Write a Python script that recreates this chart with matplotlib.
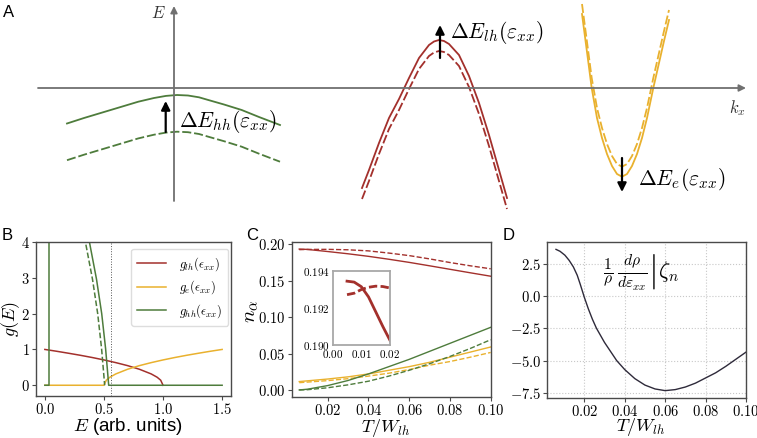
import numpy as np
import matplotlib.pyplot as plt
from matplotlib.ticker import FuncFormatter

plt.rcParams['mathtext.fontset'] = 'cm'
plt.rcParams['font.family'] = ['Liberation Sans', 'DejaVu Sans']

RED = '#a3302c'
YEL = '#e9b12e'
GRN = '#4e7c3c'
SPINE = '#4a4a4a'

# ---- A: band sketch (k_x, E in arbitrary units), solid = strained
hh_k = [-1.07, -0.9, -0.69, -0.5, -0.357, -0.2, -0.08, 0.03, 0.14, 0.25, 0.343, 0.5, 0.677, 0.85, 1.06]
hh_E = [-0.355, -0.30, -0.237, -0.18, -0.137, -0.100, -0.079, -0.07, -0.075, -0.093, -0.12, -0.165, -0.22, -0.29, -0.37]
lh_k = [1.88, 1.95, 2.05, 2.15, 2.25, 2.35, 2.45, 2.55, 2.60, 2.65, 2.70, 2.75, 2.85, 2.95, 3.05, 3.15, 3.25, 3.33]
lh_E = [-1.00, -0.82, -0.55, -0.30, -0.11, 0.10, 0.30, 0.43, 0.465, 0.48, 0.47, 0.44, 0.33, 0.12, -0.15, -0.47, -0.82, -1.10]
e_k = [4.08, 4.13, 4.177, 4.23, 4.28, 4.33, 4.38, 4.43, 4.48, 4.53, 4.58, 4.63, 4.68, 4.73, 4.793, 4.85, 4.90, 4.95]
e_E = [0.74, 0.36, 0.0, -0.30, -0.50, -0.66, -0.78, -0.86, -0.887, -0.86, -0.78, -0.66, -0.50, -0.30, 0.0, 0.25, 0.47, 0.68]
# strain shifts of the band edges
dE_hh = 0.367
dE_lh = 0.11
dE_e = -0.10

# ---- B: density of states
lh_Eg = [0.0, 0.1, 0.2, 0.3, 0.4, 0.5, 0.6, 0.7, 0.8, 0.9, 0.95, 0.98, 1.0]
lh_g = [1.0, 0.949, 0.894, 0.837, 0.775, 0.707, 0.632, 0.548, 0.447, 0.316, 0.224, 0.141, 0.0]
e_Eg = [0.0, 0.5, 0.52, 0.55, 0.6, 0.7, 0.8, 0.9, 1.0, 1.1, 1.2, 1.3, 1.4, 1.5]
e_g = [0.0, 0.0, 0.141, 0.224, 0.316, 0.447, 0.548, 0.632, 0.707, 0.775, 0.837, 0.894, 0.949, 1.0]
hh_Eg = [0.0, 0.035, 0.035, np.nan, 0.36, 0.377, 0.437, 0.481, 0.514, 0.533, 0.54, 1.5]
hh_g = [0.0, 0.0, 5.0, np.nan, 4.6, 4.0, 2.96, 2.0, 1.02, 0.28, 0.0, 0.0]
hh0_Eg = [0.326, 0.343, 0.403, 0.447, 0.48, 0.499, 0.506]
hh0_g = [4.6, 4.0, 2.96, 2.0, 1.02, 0.28, 0.0]
E_mark = 0.56

# ---- C: occupations vs temperature
T = [0.006, 0.01, 0.02, 0.03, 0.04, 0.05, 0.06, 0.07, 0.08, 0.09, 0.1]
n_lh = [0.1935, 0.1930, 0.1901, 0.1870, 0.1835, 0.1795, 0.1752, 0.1705, 0.1657, 0.1609, 0.1562]
n_lh0 = [0.1927, 0.1930, 0.1931, 0.1925, 0.1910, 0.1880, 0.1845, 0.1800, 0.1750, 0.1705, 0.1664]
n_e = [0.0115, 0.0125, 0.015, 0.018, 0.022, 0.027, 0.032, 0.038, 0.045, 0.052, 0.059]
n_e0 = [0.010, 0.0108, 0.0128, 0.0155, 0.019, 0.023, 0.028, 0.034, 0.039, 0.045, 0.0515]
n_hh = [0.0, 0.001, 0.006, 0.013, 0.022, 0.032, 0.042, 0.053, 0.064, 0.075, 0.086]
n_hh0 = [0.0, 0.0003, 0.003, 0.007, 0.012, 0.019, 0.027, 0.036, 0.046, 0.057, 0.069]
T_in = [0.005, 0.0075, 0.01, 0.0125, 0.015, 0.0175, 0.02]
n_lh_in = [0.19345, 0.1934, 0.19315, 0.1926, 0.1918, 0.1910, 0.19025]
n_lh0_in = [0.19272, 0.1928, 0.1930, 0.19312, 0.19318, 0.19316, 0.19308]

# ---- D: strain response of resistivity
T_d = [0.006, 0.008, 0.0104, 0.0125, 0.0146, 0.0165, 0.018, 0.02, 0.022, 0.024, 0.026, 0.028, 0.03,
       0.033, 0.036, 0.04, 0.045, 0.05, 0.055, 0.06, 0.065, 0.07, 0.075, 0.08, 0.085, 0.09, 0.095, 0.1]
zeta = [3.6, 3.45, 3.15, 2.75, 2.24, 1.6, 0.9, -0.1, -1.0, -1.8, -2.5, -3.05, -3.6,
        -4.3, -5.0, -5.7, -6.4, -6.9, -7.2, -7.33, -7.25, -7.05, -6.75, -6.35, -5.95, -5.45, -4.9, -4.35]


def mfmt(dec):
    return FuncFormatter(lambda v, _: f'${v:.{dec}f}$')


def style(ax, size=10.5):
    for s in ax.spines.values():
        s.set_color(SPINE)
        s.set_linewidth(1.0)
    ax.tick_params(labelsize=size, color=SPINE, length=3, pad=1.5)


fig = plt.figure(figsize=(7.57, 4.38), dpi=100)

# ---------------- A
axA = fig.add_axes([0, 1 - 223 / 438, 1, 223 / 438])
axA.set_xlim(-1.74, 5.83)
axA.set_ylim(-1.35, 0.88)
axA.axis('off')
gray = '#707070'
axA.annotate('', xy=(5.72, 0), xytext=(-1.36, 0),
             arrowprops=dict(arrowstyle='-|>', color=gray, lw=1.3, mutation_scale=10, shrinkA=0, shrinkB=0))
axA.annotate('', xy=(0, 0.82), xytext=(0, -1.13),
             arrowprops=dict(arrowstyle='-|>', color=gray, lw=1.3, mutation_scale=10, shrinkA=0, shrinkB=0))
axA.text(-0.155, 0.75, '$E$', fontsize=12, ha='center', va='center', color='#333333')
axA.text(5.63, -0.20, '$k_x$', fontsize=12, ha='center', va='center', color='#333333')

dash = dict(dashes=(5, 1.6))
for k, E, dE, c in [(hh_k, hh_E, dE_hh, GRN), (lh_k, lh_E, dE_lh, RED), (e_k, e_E, dE_e, YEL)]:
    E = np.array(E)
    axA.plot(k, E, color=c, lw=1.3)
    axA.plot(k, E - dE, color=c, lw=1.3, **dash)

arr = dict(arrowstyle='-|>', color='k', lw=1.6, mutation_scale=13, shrinkA=0, shrinkB=0)
axA.annotate('', xy=(-0.083, -0.13), xytext=(-0.083, -0.44), arrowprops=arr)
axA.annotate('', xy=(2.66, 0.63), xytext=(2.66, 0.30), arrowprops=arr)
axA.annotate('', xy=(4.48, -1.04), xytext=(4.48, -0.70), arrowprops=arr)
axA.text(0.05, -0.39, r'$\Delta E_{hh}(\varepsilon_{xx})$', fontsize=15.5, va='baseline', ha='left')
axA.text(2.76, 0.50, r'$\Delta E_{lh}(\varepsilon_{xx})$', fontsize=15.5, va='baseline', ha='left')
axA.text(4.64, -0.97, r'$\Delta E_{e}(\varepsilon_{xx})$', fontsize=15.5, va='baseline', ha='left')

# ---------------- B
axB = fig.add_axes([36 / 757, 42 / 438, 195 / 757, 154 / 438])
axB.plot(lh_Eg, lh_g, color=RED, lw=1.1, label=r'$g_{lh}(\epsilon_{xx})$')
axB.plot(e_Eg, e_g, color=YEL, lw=1.1, label=r'$g_{e}(\epsilon_{xx})$')
axB.plot(hh_Eg, hh_g, color=GRN, lw=1.1, label=r'$g_{hh}(\epsilon_{xx})$')
axB.plot(hh0_Eg, hh0_g, color=GRN, lw=1.1, ls='--')
axB.axvline(E_mark, color='#555555', lw=0.7, ls=':')
axB.set_xlim(-0.075, 1.575)
axB.set_ylim(-0.3, 4)
axB.set_xticks([0, 0.5, 1.0, 1.5])
axB.set_yticks([0, 1, 2, 3, 4])
axB.xaxis.set_major_formatter(mfmt(1))
axB.yaxis.set_major_formatter(mfmt(0))
axB.set_xlabel(r'$E$ (arb. units)', fontsize=13.5)
axB.set_ylabel(r'$g(E)$', fontsize=13)
axB.xaxis.set_label_coords(0.47, -0.128)
axB.yaxis.set_label_coords(-0.074, 0.5)
axB.legend(loc='upper right', fontsize=9, handlelength=2.3, borderpad=0.5, labelspacing=0.45,
           handletextpad=1.0, borderaxespad=0, framealpha=1, edgecolor='#dddddd',
           bbox_to_anchor=(0.985, 0.955))
style(axB)

# ---------------- C
axC = fig.add_axes([291.7 / 757, 41 / 438, 199 / 757, 155 / 438])
axC.plot(T, n_lh, color=RED, lw=1.0)
axC.plot(T, n_lh0, color=RED, lw=1.0, ls='--')
axC.plot(T, n_e, color=YEL, lw=1.0)
axC.plot(T, n_e0, color=YEL, lw=1.0, ls='--')
axC.plot(T, n_hh, color=GRN, lw=1.0)
axC.plot(T, n_hh0, color=GRN, lw=1.0, ls='--')
axC.set_xlim(0.0023, 0.1)
axC.set_ylim(-0.0097, 0.2032)
axC.set_xticks([0.02, 0.04, 0.06, 0.08, 0.10])
axC.set_yticks([0, 0.05, 0.10, 0.15, 0.20])
axC.xaxis.set_major_formatter(mfmt(2))
axC.yaxis.set_major_formatter(mfmt(2))
axC.set_xlabel(r'$T/W_{lh}$', fontsize=13)
axC.set_ylabel(r'$n_\alpha$', fontsize=15)
axC.xaxis.set_label_coords(0.47, -0.128)
axC.yaxis.set_label_coords(-0.158, 0.55)
style(axC)

axI = fig.add_axes([332.7 / 757, 93 / 438, 57.3 / 757, 74 / 438])
axI.plot(T_in, n_lh_in, color=RED, lw=2.0)
axI.plot(T_in, n_lh0_in, color=RED, lw=2.0, ls='--', dashes=(3, 1.2))
axI.set_xlim(0, 0.02)
axI.set_ylim(0.190, 0.194)
axI.set_xticks([0, 0.01, 0.02])
axI.set_yticks([0.190, 0.192, 0.194])
axI.xaxis.set_major_formatter(mfmt(2))
axI.yaxis.set_major_formatter(mfmt(3))
for s in axI.spines.values():
    s.set_color('#a8a8a8')
    s.set_linewidth(1.3)
axI.tick_params(labelsize=8, length=0, pad=2.0)

# ---------------- D
axD = fig.add_axes([547.3 / 757, 40.3 / 438, 198.7 / 757, 155.4 / 438])
axD.plot(T_d, zeta, color='#2e2a3a', lw=1.0)
axD.set_xlim(0.0017, 0.1)
axD.set_xticks([0.02, 0.04, 0.06, 0.08, 0.10])
axD.set_yticks([-7.5, -5.0, -2.5, 0.0, 2.5])
axD.xaxis.set_major_formatter(mfmt(2))
axD.yaxis.set_major_formatter(mfmt(1))
axD.grid(True, ls=':', color='#c8c8c8', lw=0.8)
axD.set_xlabel(r'$T/W_{lh}$', fontsize=13)
axD.xaxis.set_label_coords(0.47, -0.12)
axD.text(0.47, 0.81, r'$\left.\frac{1}{\rho}\,\frac{d\rho}{d\varepsilon_{xx}}\right|\zeta_n$',
         transform=axD.transAxes, fontsize=16, ha='center', va='center')
style(axD)

for lbl, x, y in [('A', 3, 5), ('B', 2, 228), ('C', 246, 228), ('D', 503, 228)]:
    fig.text(x / 757, 1 - y / 438, lbl, fontsize=12, ha='left', va='top')

fig.savefig('out.png', dpi=100)
